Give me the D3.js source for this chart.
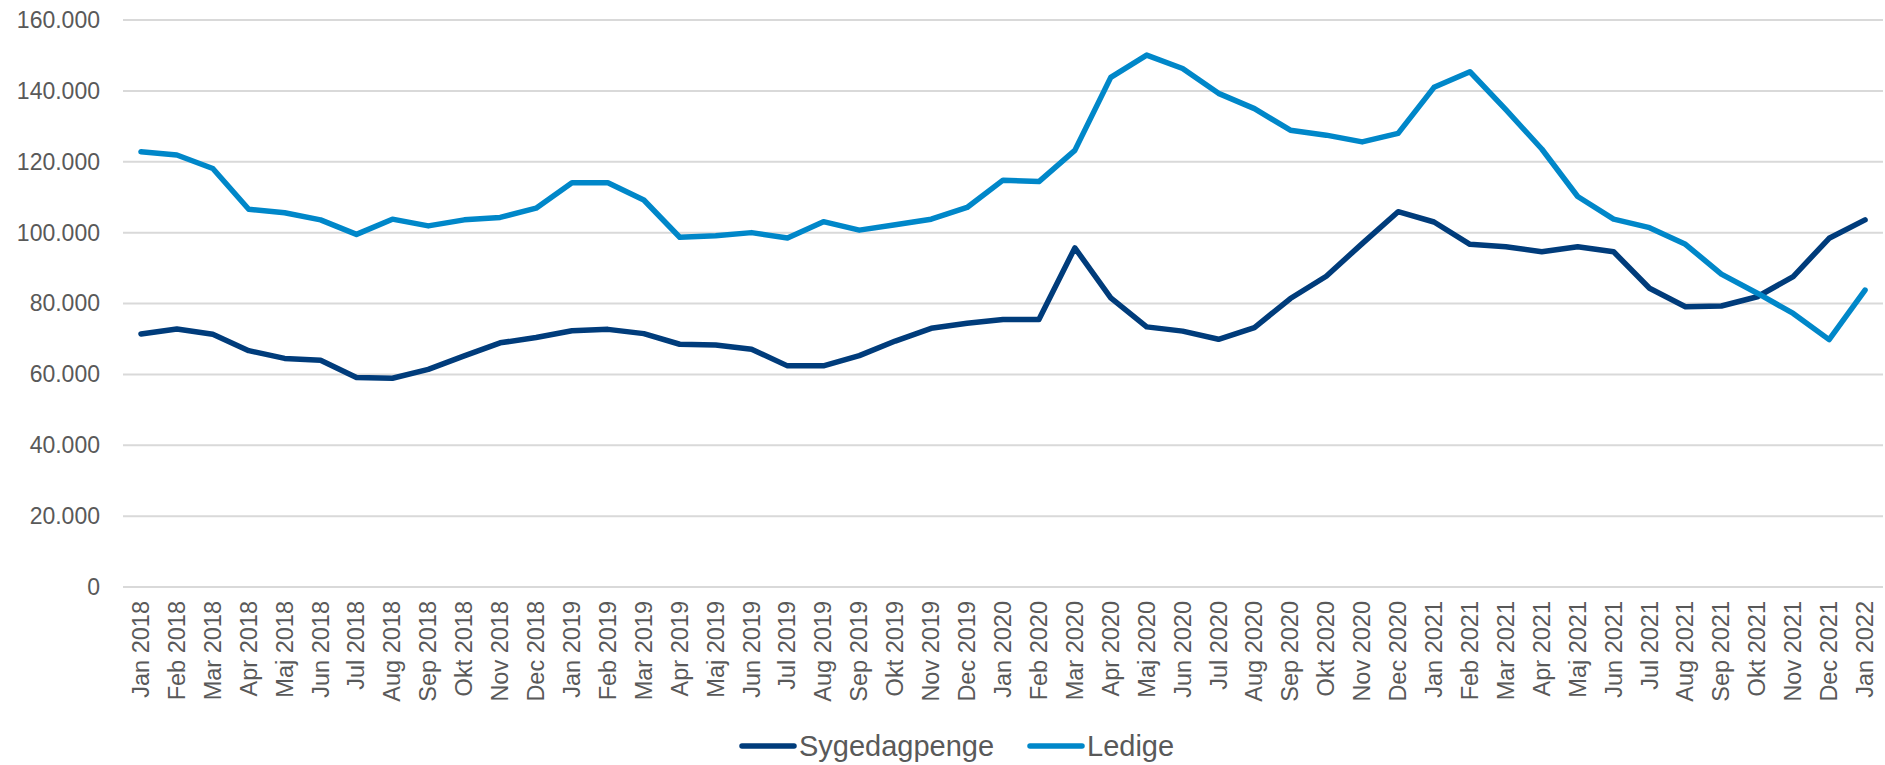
<!DOCTYPE html>
<html>
<head>
<meta charset="utf-8">
<script src="https://cdn.jsdelivr.net/npm/d3@7"></script>
<style>
  body { margin: 0; background: #fff; }
  svg { display: block; font-family: "Liberation Sans", Arial, sans-serif; }
</style>
</head>
<body>
<svg id="chart" width="1885" height="765"></svg>
<script>
// month labels on the x axis
var months = ["Jan 2018","Feb 2018","Mar 2018","Apr 2018","Maj 2018","Jun 2018","Jul 2018","Aug 2018","Sep 2018","Okt 2018","Nov 2018","Dec 2018",
  "Jan 2019","Feb 2019","Mar 2019","Apr 2019","Maj 2019","Jun 2019","Jul 2019","Aug 2019","Sep 2019","Okt 2019","Nov 2019","Dec 2019",
  "Jan 2020","Feb 2020","Mar 2020","Apr 2020","Maj 2020","Jun 2020","Jul 2020","Aug 2020","Sep 2020","Okt 2020","Nov 2020","Dec 2020",
  "Jan 2021","Feb 2021","Mar 2021","Apr 2021","Maj 2021","Jun 2021","Jul 2021","Aug 2021","Sep 2021","Okt 2021","Nov 2021","Dec 2021",
  "Jan 2022"];

var sygedagpenge = [71400,72800,71300,66700,64500,64000,59100,58900,61400,65200,68900,70400,
  72300,72700,71500,68500,68300,67100,62400,62400,65300,69400,73000,74400,
  75500,75500,95700,81600,73400,72200,69900,73200,81400,87700,96900,105900,
  103000,96700,96000,94600,96000,94600,84300,79100,79300,81900,87600,98400,
  103600];

var ledige = [122800,121900,118100,106600,105600,103600,99500,103800,101900,103600,104300,106900,
  114100,114100,109200,98700,99100,100000,98500,103100,100700,102200,103800,107100,
  114800,114400,123200,143800,150100,146300,139300,135000,128900,127500,125600,128000,
  141000,145400,134700,123600,110200,103800,101400,96700,88300,82900,77200,69800,
  83800];

var yTicks = [0,20000,40000,60000,80000,100000,120000,140000,160000];

var series = [
  {name: "Sygedagpenge", values: sygedagpenge, color: "#003c7b"},
  {name: "Ledige", values: ledige, color: "#0087c9"}
];

var svg = d3.select("svg#chart");
var plotLeft = 123, plotRight = 1883, plotTop = 20, plotBottom = 587;

var x = d3.scaleBand().domain(months).range([plotLeft, plotRight]);
var y = d3.scaleLinear().domain([0, 160000]).range([plotBottom, plotTop]);

var da = d3.formatLocale({decimal: ",", thousands: ".", grouping: [3], currency: ["", " kr."]});
var fmt = da.format(",.0f");

// gridlines
svg.append("g")
  .selectAll("line")
  .data(yTicks)
  .enter()
  .append("line")
  .attr("x1", plotLeft)
  .attr("x2", plotRight)
  .attr("y1", function(d){ return y(d); })
  .attr("y2", function(d){ return y(d); })
  .attr("stroke", "#d9d9d9")
  .attr("stroke-width", 2);

// y axis
var yAxis = svg.append("g")
  .attr("transform", "translate(" + (plotLeft - 23) + ",0)")
  .call(d3.axisLeft(y).tickValues(yTicks).tickFormat(fmt).tickSize(0).tickPadding(0));
yAxis.select(".domain").remove();
yAxis.selectAll("text")
  .attr("fill", "#595959")
  .attr("font-size", 23)
  .attr("font-family", "Liberation Sans, Arial, sans-serif");

// x axis
var xAxis = svg.append("g")
  .attr("transform", "translate(0," + plotBottom + ")")
  .call(d3.axisBottom(x).tickSize(0).tickPadding(0));
xAxis.select(".domain").remove();
xAxis.selectAll("text")
  .attr("fill", "#595959")
  .attr("font-size", 23.5)
  .attr("font-family", "Liberation Sans, Arial, sans-serif")
  .attr("text-anchor", "end")
  .attr("dy", null)
  .attr("transform", "translate(8,14) rotate(-90)");

// lines
var line = d3.line()
  .x(function(d, i){ return x(months[i]) + x.bandwidth() / 2; })
  .y(function(d){ return y(d); });

svg.append("g")
  .selectAll("path")
  .data(series)
  .enter()
  .append("path")
  .attr("d", function(d){ return line(d.values); })
  .attr("fill", "none")
  .attr("stroke", function(d){ return d.color; })
  .attr("stroke-width", 5.5)
  .attr("stroke-linejoin", "round")
  .attr("stroke-linecap", "round");

// legend
var legendX = [740, 1028];
var legend = svg.append("g")
  .selectAll("g")
  .data(series)
  .enter()
  .append("g")
  .attr("transform", function(d, i){ return "translate(" + legendX[i] + ",746)"; });

legend.append("line")
  .attr("x1", 2)
  .attr("x2", 54)
  .attr("stroke", function(d){ return d.color; })
  .attr("stroke-width", 5.5)
  .attr("stroke-linecap", "round");

legend.append("text")
  .attr("x", 59)
  .attr("y", 10)
  .attr("fill", "#595959")
  .attr("font-size", 29)
  .text(function(d){ return d.name; });
</script>
</body>
</html>
